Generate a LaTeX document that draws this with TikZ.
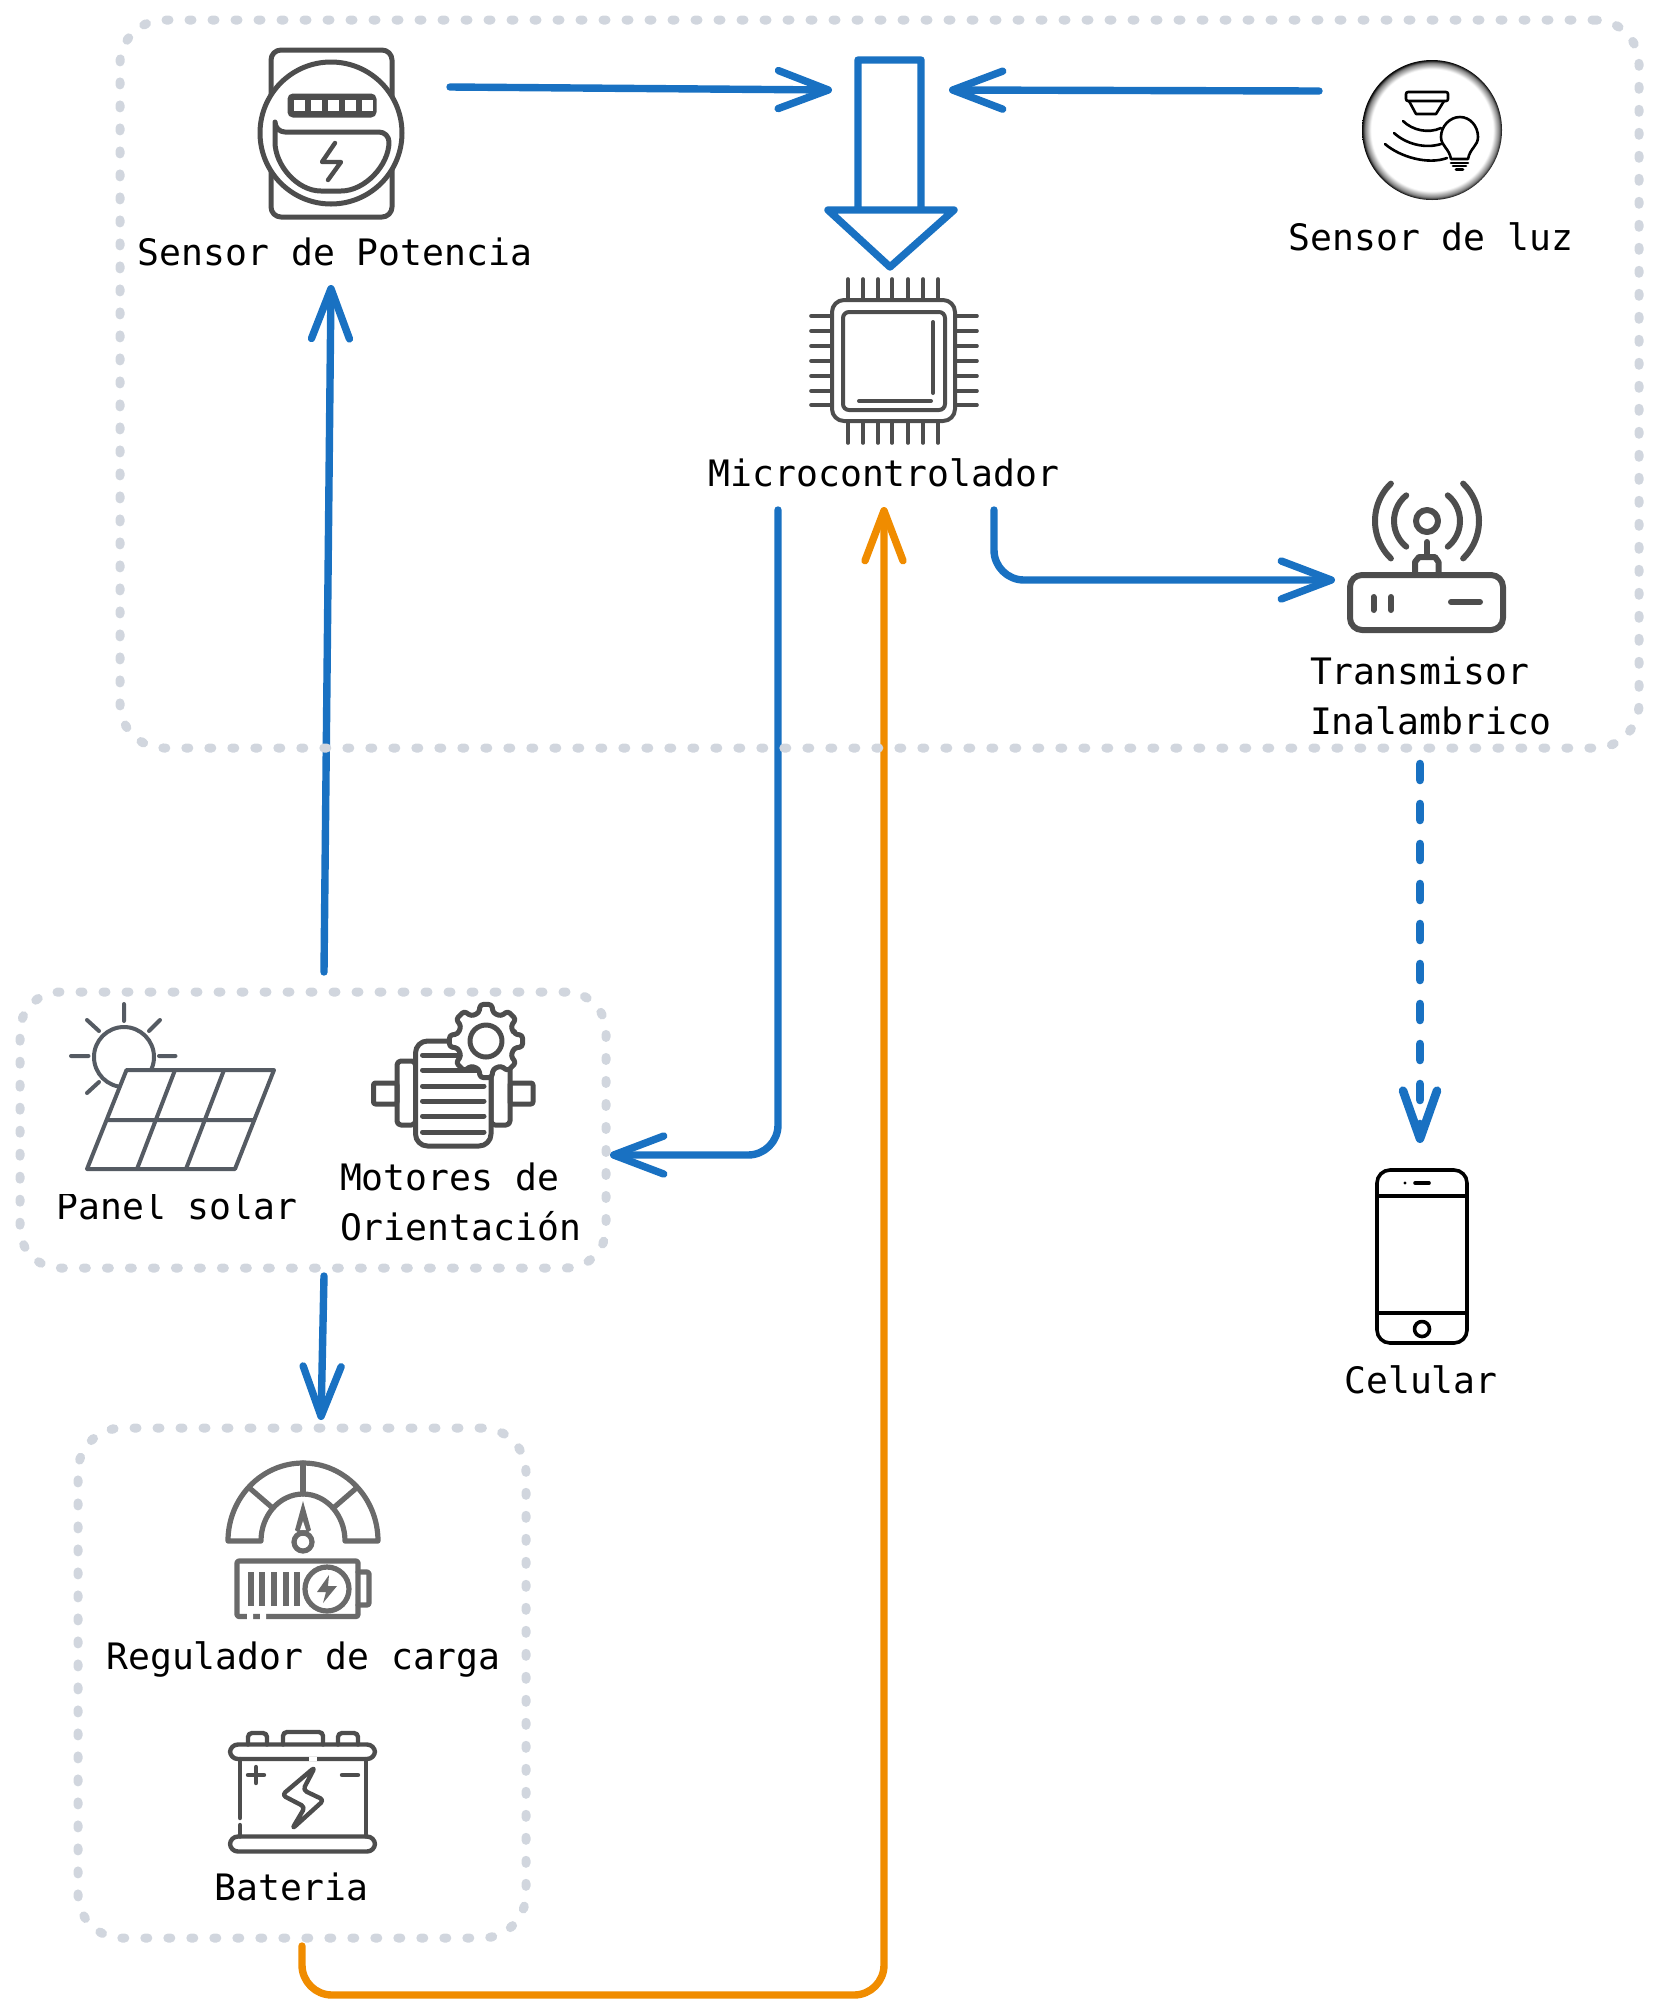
\documentclass[tikz,border=0pt]{standalone}
\usepackage{fontspec}
\setmonofont{DejaVu Sans Mono}
\usetikzlibrary{arrows.meta}
\definecolor{flowblue}{HTML}{1971C2}
\definecolor{floworange}{HTML}{F08C00}
\definecolor{dotgrey}{HTML}{D1D6DE}
\definecolor{iconA}{HTML}{4D4D4D}
\definecolor{iconB}{HTML}{555B63}
\definecolor{iconC}{HTML}{6A6A6A}
\pgfdeclareradialshading{rimshade}{\pgfpointorigin}{color(0bp)=(white); color(21.8bp)=(white); color(24bp)=(gray); color(25bp)=(black); color(50bp)=(black)}
\tikzset{
  groupbox/.style={draw=dotgrey,line width=4.5pt,line cap=round,dash pattern=on 1.5pt off 10pt,rounded corners=22pt,inner sep=0pt,outer sep=0pt,fill=none},
  conn/.style={line width=3.7pt,line cap=round,line join=round,draw=flowblue,rounded corners=15pt,-{Straight Barb[length=25pt,width=19pt,round]}},
  connor/.style={conn,draw=floworange},
  conndash/.style={conn,line width=4.3pt,dash pattern=on 8pt off 12pt,-{Straight Barb[length=24pt,width=17pt,round]}},
  label/.style={font=\ttfamily\fontsize{18.2}{25.5}\selectfont,text=black,inner sep=0pt,outer sep=0pt},
  ic/.style={line width=2.5pt,line cap=round,line join=round,draw=iconA},
  icb/.style={line width=2pt,line cap=round,line join=round,draw=iconB},
  icc/.style={line width=2.6pt,line cap=round,line join=round,draw=iconC},
  ick/.style={line width=1.3pt,line cap=round,line join=round,draw=black},
  phone/.style={line width=1.8pt,line cap=round,line join=round,draw=black},
}
\begin{document}
\begin{tikzpicture}[x=0.5pt,y=-0.5pt]
\useasboundingbox (0,0) rectangle (1658,2014);
% connector ends
\coordinate (potOut) at (450,87);
\coordinate (blockL) at (832,90);
\coordinate (luzOut) at (1319,91);
\coordinate (blockR) at (949,90);
\coordinate (panelUp) at (324,972);
\coordinate (potIn) at (331,285);
\coordinate (micDownA) at (778,510);
\coordinate (micBendA) at (778,1155);
\coordinate (panelIn) at (610,1155);
\coordinate (micDownB) at (994,510);
\coordinate (micBendB) at (994,580);
\coordinate (txIn) at (1335,580);
\coordinate (txOut) at (1420,764);
\coordinate (celIn) at (1420,1143);
\coordinate (panelDown) at (324,1276);
\coordinate (regIn) at (321,1420);
\coordinate (batOut) at (302,1946);
\coordinate (batBend) at (302,1995);
\coordinate (micBendC) at (884,1995);
\coordinate (micIn) at (884,507);
% connectors
\draw[conn] (potOut) -- (blockL);
\draw[conn] (luzOut) -- (blockR);
\draw[conn] (panelUp) -- (potIn);
\draw[conn] (micDownA) -- (micBendA) -- (panelIn);
\draw[conn] (micDownB) -- (micBendB) -- (txIn);
\draw[conndash] (txOut) -- (celIn);
\draw[conn] (panelDown) -- (regIn);
\draw[connor] (batOut) -- (batBend) -- (micBendC) -- (micIn);
% groups
\node[groupbox,minimum width=759.5pt,minimum height=364pt] (gTop) at (879.5,384) {};
\node[groupbox,minimum width=293pt,minimum height=138pt,rounded corners=20pt] (gPanel) at (313,1130) {};
\node[groupbox,minimum width=224pt,minimum height=255pt] (gReg) at (302,1683) {};
% block arrow
\draw[line width=3.7pt,line join=round,draw=flowblue] (858,210) -- (858,60) -- (921,60) -- (921,210) (828,210) -- (954,210) -- (890,267) -- cycle;
% labels
\node[label,anchor=base] (tPot) at (335,265) {Sensor de Potencia};
\node[label,anchor=base] (tLuz) at (1431,250) {Sensor de luz};
\node[label,anchor=base] (tMic) at (884,486) {Microcontrolador};
\node[label,anchor=base west] (tTx) at (1310,684) {Transmisor};
\node[label,anchor=base west] (tTxB) at (1310,734) {Inalambrico};
\node[label,anchor=base] (tPanel) at (177,1219.5) {Panel solar};
\node[label,anchor=base west] (tMot) at (340,1190.5) {Motores de};
\node[label,anchor=base west] (tMotB) at (340,1240) {Orientación};
\node[label,anchor=base] (tReg) at (303.5,1669) {Regulador de carga};
\node[label,anchor=base] (tBat) at (291.5,1900.5) {Bateria};
\node[label,anchor=base] (tCel) at (1421,1393) {Celular};
% meter
\draw[ic,rounded corners=5pt] (271,50) rectangle (392,217);
\draw[ic,fill=white] (331,133) circle[radius=71];
\draw[ic,fill=iconA,rounded corners=2pt,line width=1.5pt] (289,95) rectangle (375,116);
\foreach \x in {293.5,310.5,327.5,344.5,361.5}{\fill[white] (\x,100) rectangle ++(11,11);}
\draw[ic,rounded corners=5pt] (275,132) -- (389,132) .. controls (389,165) and (365,191) .. (331,191) .. controls (297,191) and (275,165) .. (275,132) -- cycle;
\draw[ic,line width=2.2pt] (335,143) -- (322,162) -- (341,162) -- (328,180);
% chip
\draw[ic,line width=2pt,rounded corners=6pt] (832,300) rectangle (955,421);
\draw[ic,line width=2pt,rounded corners=3pt] (843,312) rectangle (945,410);
\draw[ic,line width=2pt] (933,322) -- (933,393);
\draw[ic,line width=2pt] (859,401) -- (931,401);
\foreach \x in {848,863,878,892,908,923,938}{\draw[ic,line width=1.8pt] (\x,279) -- (\x,300); \draw[ic,line width=1.8pt] (\x,421) -- (\x,443);}
\foreach \y in {316,331,346,361,376,391,405}{\draw[ic,line width=1.8pt] (811,\y) -- (832,\y); \draw[ic,line width=1.8pt] (955,\y) -- (977,\y);}
% light sensor
\shade[shading=rimshade] (1432,130) circle[radius=70];
\draw[ick,rounded corners=1pt] (1406,92) rectangle (1448,101);
\draw[ick] (1409,101) -- (1416,114) -- (1436,114) -- (1444,101);
\draw[ick] (1403,121) .. controls (1412,130) and (1428,134) .. (1441,128);
\draw[ick] (1394,133) .. controls (1406,144) and (1425,149) .. (1441,144);
\draw[ick] (1385,144) .. controls (1400,157) and (1428,165) .. (1447,158);
\draw[ick] (1451,159) .. controls (1449,148) and (1441,146) .. (1441,137) .. controls (1441,126) and (1450,117) .. (1460,117) .. controls (1470,117) and (1478,126) .. (1478,137) .. controls (1478,146) and (1470,148) .. (1468,159) -- cycle;
\draw[ick] (1451,163) -- (1468,163) (1453,166) -- (1466,166) (1456,169.5) -- (1463,169.5);
% router
\draw[ic,line width=3pt,rounded corners=6pt] (1350,575) rectangle (1503,630);
\draw[ic,line width=3pt] (1415,575) -- (1415,562) -- (1419,557) -- (1435,557) -- (1438.5,562) -- (1438.5,575);
\draw[ic,line width=3pt] (1427,557) -- (1427,542);
\draw[ic,line width=3pt] (1427,521) circle[radius=11];
\draw[ic,line width=3pt] (1427,521) ++(231:33) arc[start angle=231,end angle=129,radius=33];
\draw[ic,line width=3pt] (1427,521) ++(-51:33) arc[start angle=-51,end angle=51,radius=33];
\draw[ic,line width=3pt] (1427,521) ++(226:52) arc[start angle=226,end angle=134,radius=52];
\draw[ic,line width=3pt] (1427,521) ++(-46:52) arc[start angle=-46,end angle=46,radius=52];
\draw[ic,line width=3pt] (1373.5,597) -- (1373.5,610) (1391,597) -- (1391,610) (1451,602) -- (1480,602);
% solar panel
\fill[white] (55,1005) rectangle (295,1194);
\draw[icb] (124,1057) circle[radius=30];
\draw[icb] (124,1004) -- (124,1021) (71,1056) -- (88.5,1056) (159,1056) -- (175.5,1056) (87,1020) -- (99,1031) (160,1020) -- (149,1031) (87,1093) -- (99,1082);
\draw[icb,fill=white] (126.5,1070) -- (274,1070) -- (235,1169) -- (87,1169) -- cycle;
\draw[icb] (108,1120) -- (254,1120) (175,1070) -- (137,1169) (224,1070) -- (186,1169);
% motor
\draw[ic,rounded corners=1pt] (373.5,1083) rectangle (397,1104);
\draw[ic,rounded corners=1pt] (510,1083) rectangle (533,1104);
\draw[ic,rounded corners=2pt] (397,1061) rectangle (415.5,1125);
\draw[ic,rounded corners=2pt] (491,1061) rectangle (510,1125);
\draw[ic,fill=white,rounded corners=6pt] (415.5,1041) rectangle (491,1146);
\foreach \y in {1055,1070,1086,1101,1116,1132}{\draw[ic] (422.5,\y) -- (484,\y);}
\begin{scope}[shift={(486,1041)}]
\draw[ic,fill=white,rounded corners=1.5pt] (-14:29) \foreach \a in {0,45,...,315}{ -- (\a-14:29) -- (\a-9:37) -- (\a+9:37) -- (\a+14:29)} -- cycle;
\draw[ic] (0,0) circle[radius=16];
\end{scope}
% gauge
\draw[icc] (228,1541) arc[start angle=180,end angle=360,x radius=75,y radius=78] -- (345,1541) arc[start angle=0,end angle=-180,x radius=42,y radius=47] -- cycle;
\draw[icc] (303,1463) -- (303,1494);
\draw[icc] (250.7,1489) -- (272.7,1508);
\draw[icc] (355.3,1489) -- (333.3,1508);
\fill[iconC] (303,1501) -- (311,1530) -- (303,1536) -- (295,1530) -- cycle;
\fill[white] (303,1521) -- (306,1530) -- (300,1530) -- cycle;
\draw[icc] (303,1542) circle[radius=9];
% charge battery
\draw[icc,rounded corners=1pt] (237,1561) rectangle (358,1616.5);
\draw[icc,rounded corners=1pt] (358,1572) -- (369,1572) -- (369,1605) -- (358,1605);
\foreach \x in {251,262,274,286,297}{\draw[icc,line cap=butt,line width=3pt] (\x,1572) -- (\x,1606);}
\draw[icc,fill=white] (327,1589) circle[radius=22];
\fill[iconC] (329,1575) -- (317,1592) -- (326,1592) -- (323,1603) -- (337,1586) -- (328,1586) -- cycle;
\fill[white] (247,1613) rectangle (253,1620) (260,1613) rectangle (266,1620);
% battery
\draw[ic,line width=2.2pt,rounded corners=4pt,fill=white] (230,1744.5) rectangle (375,1759);
\draw[ic,line width=2.2pt,rounded corners=4pt,fill=white] (230,1836.5) rectangle (375,1851.5);
\draw[ic,line width=2.2pt,rounded corners=2pt] (248,1744.5) -- (248,1733) -- (267,1733) -- (267,1744.5);
\draw[ic,line width=2.2pt,rounded corners=2pt] (283,1744.5) -- (283,1732) -- (323,1732) -- (323,1744.5);
\draw[ic,line width=2.2pt,rounded corners=2pt] (338,1744.5) -- (338,1733) -- (358,1733) -- (358,1744.5);
\draw[ic,line width=2.2pt] (240,1759) -- (240,1818) (240,1825) -- (240,1836.5) (366,1759) -- (366,1836.5);
\fill[white] (309,1757) rectangle (317,1761);
\draw[ic,line width=2.2pt] (248,1775) -- (264,1775) (256,1767) -- (256,1783) (342,1775) -- (358,1775);
\draw[ic,line width=2.2pt,rounded corners=2pt] (315,1767) -- (282,1795) -- (305,1807) -- (292,1829) -- (324,1800) -- (303,1790) -- cycle;
% phone
\draw[phone,rounded corners=6.5pt] (1377,1170) rectangle (1467,1343);
\draw[phone] (1377,1196) -- (1467,1196) (1377,1313) -- (1467,1313) (1415,1183) -- (1429,1183);
\draw[phone] (1422,1329) circle[radius=7.5];
\fill[black] (1405,1183) circle[radius=1.6];
\end{tikzpicture}
\end{document}
